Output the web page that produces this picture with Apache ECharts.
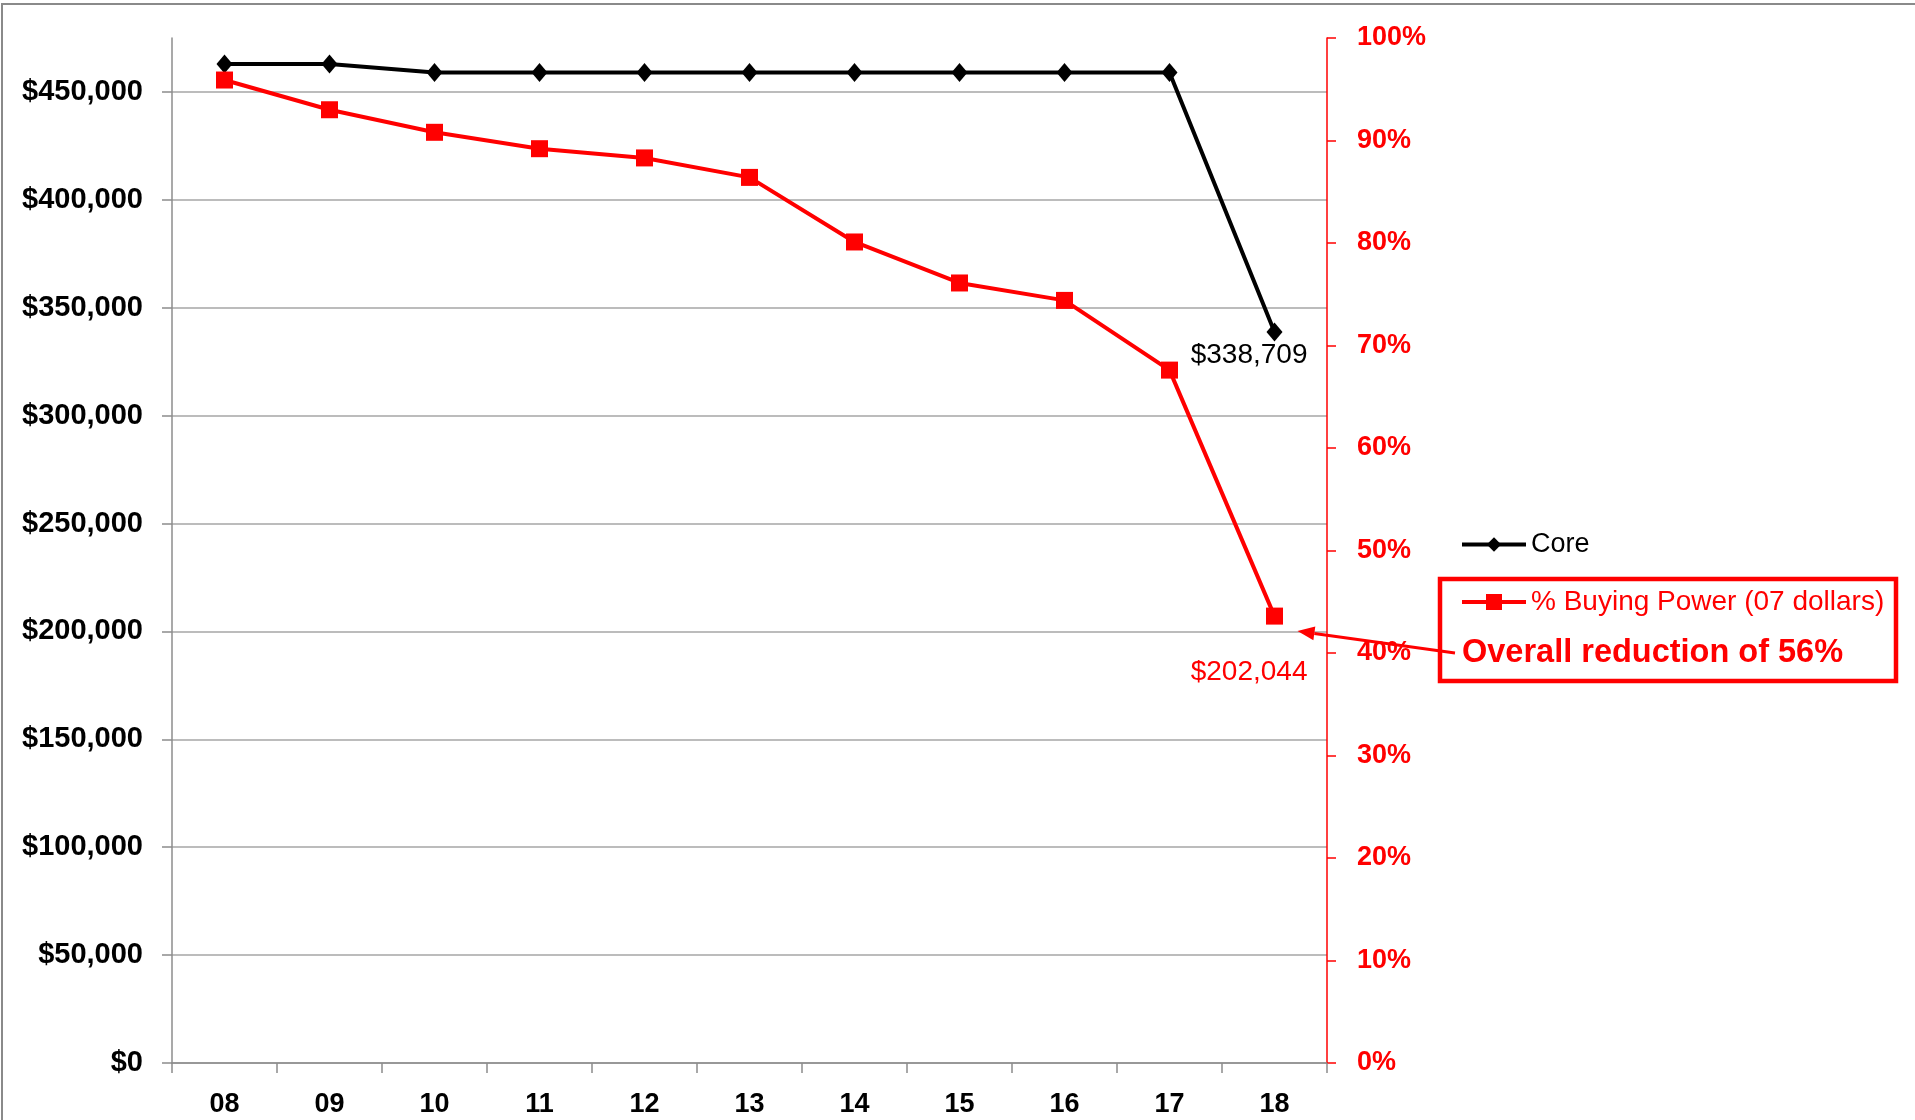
<!DOCTYPE html>
<html>
<head>
<meta http-equiv="content-type" content="text/html; charset=UTF-8" />
<title>Core vs Buying Power</title>
<style type="text/css">
body,html{margin:0;padding:0;border:0;width:100%;height:100%;overflow:hidden;background:#fff;}
#chartContainer{width:1915px;height:1120px;}
</style>
<script src="https://cdn.jsdelivr.net/npm/echarts@6/dist/echarts.min.js"></script>
<script type="text/javascript">
var years = ['08','09','10','11','12','13','14','15','16','17','18'];
var coreValues = [462900, 462900, 459000, 459000, 459000, 459000, 459000, 459000, 459000, 459000, 338709];
var buyingPower = [95.9, 93.0, 90.8, 89.2, 88.3, 86.4, 80.1, 76.1, 74.4, 67.6, 43.6];
var leftTicks = [0, 50000, 100000, 150000, 200000, 250000, 300000, 350000, 400000, 450000];
var coreEndLabel = '$338,709';
var buyingEndLabel = '$202,044';
var noteText = 'Overall reduction of 56%';
var FONT = '"Liberation Sans", Arial, sans-serif';

window.onload = function(){ init(); };

function money(v)
{
	return '$' + String(v).replace(/\B(?=(\d{3})+(?!\d))/g, ',');
}

function init()
{
	var chart = echarts.init(document.getElementById('chartContainer'));
	var last = years.length - 1;

	var coreData = coreValues.map(function(v, i){
		if(i != last){ return v; }
		return { value: v, label: {
			show: true, formatter: coreEndLabel, position: [41, 33],
			align: 'right', verticalAlign: 'middle',
			fontFamily: FONT, fontSize: 28, color: '#000'
		}};
	});
	var bpData = buyingPower.map(function(v, i){
		if(i != last){ return v; }
		return { value: v, label: {
			show: true, formatter: buyingEndLabel, position: [41.5, 64.5],
			align: 'right', verticalAlign: 'middle',
			fontFamily: FONT, fontSize: 28, color: '#ff0000'
		}};
	});

	var option = {
		animation: false,
		textStyle: { fontFamily: FONT },
		grid: { left: 172, right: 588, top: 38, bottom: 57, outerBoundsMode: 'none', containLabel: false },
		legend: [
			{
				data: ['Core'], orient: 'vertical', left: 1460, top: 531, padding: 0,
				itemWidth: 64, itemHeight: 18,
				lineStyle: { width: 4 },
				textStyle: { fontFamily: FONT, fontSize: 27, color: '#000' }
			},
			{
				data: ['% Buying Power (07 dollars)'], orient: 'vertical', left: 1460, top: 588, padding: 0,
				itemWidth: 64, itemHeight: 20,
				lineStyle: { width: 4 },
				textStyle: { fontFamily: FONT, fontSize: 28, color: '#ff0000' }
			}
		],
		xAxis: {
			type: 'category', data: years, boundaryGap: true,
			axisLine: { show: true, lineStyle: { color: '#8c8c8c', width: 1.5 } },
			axisTick: { show: true, length: 10, lineStyle: { color: '#8c8c8c', width: 1.5 } },
			axisLabel: { fontFamily: FONT, fontSize: 27, fontWeight: 'bold', color: '#000', margin: 28 },
			splitLine: { show: false }
		},
		yAxis: [
			{
				type: 'value', position: 'left', min: 0, max: 475000, interval: 50000,
				axisLine: { show: true, lineStyle: { color: '#8c8c8c', width: 1.5 } },
				axisTick: { show: true, length: 10, customValues: leftTicks, lineStyle: { color: '#8c8c8c', width: 1.5 } },
				axisLabel: {
					customValues: leftTicks,
					formatter: function(v){ return v % 50000 == 0 ? money(v) : ''; },
					fontFamily: FONT, fontSize: 29, fontWeight: 'bold', color: '#000', margin: 29
				},
				splitLine: { show: true, lineStyle: { color: '#a6a6a6', width: 1.5 } }
			},
			{
				type: 'value', position: 'right', min: 0, max: 100, interval: 10,
				axisLine: { show: true, lineStyle: { color: '#ff0000', width: 1.5 } },
				axisTick: { show: true, length: 9, lineStyle: { color: '#ff0000', width: 1.5 } },
				axisLabel: {
					formatter: '{value}%',
					fontFamily: FONT, fontSize: 27, fontWeight: 'bold', color: '#ff0000', margin: 30
				},
				splitLine: { show: false }
			}
		],
		series: [
			{
				name: 'Core', type: 'line', yAxisIndex: 0, data: coreData,
				symbol: 'diamond', symbolSize: [16, 19],
				lineStyle: { color: '#000', width: 4 },
				itemStyle: { color: '#000' },
				z: 3
			},
			{
				name: '% Buying Power (07 dollars)', type: 'line', yAxisIndex: 1, data: bpData,
				symbol: 'rect', symbolSize: 17,
				lineStyle: { color: '#ff0000', width: 4 },
				itemStyle: { color: '#ff0000' },
				z: 4
			}
		]
	};
	chart.setOption(option);

	// arrow from the note to the last buying power point
	var p = chart.convertToPixel({ seriesIndex: 1 }, [last, buyingPower[last]]);
	var tip = [p[0] + 23, p[1] + 15];
	var tail = [1455, 653];
	var dx = tail[0] - tip[0], dy = tail[1] - tip[1];
	var len = Math.sqrt(dx * dx + dy * dy);
	var ux = dx / len, uy = dy / len;
	var hb = [tip[0] + ux * 17, tip[1] + uy * 17];
	var head = [tip, [hb[0] - uy * 7, hb[1] + ux * 7], [hb[0] + uy * 7, hb[1] - ux * 7]];

	chart.setOption({
		graphic: [
			{ type: 'rect', shape: { x: 2, y: 4, width: 1950, height: 1150 },
			  style: { fill: 'none', stroke: '#8a8a8a', lineWidth: 2 }, silent: true },
			{ type: 'rect', shape: { x: 1440, y: 579, width: 456, height: 102 },
			  style: { fill: 'none', stroke: '#ff0000', lineWidth: 4.5 }, z: 10 },
			{ type: 'text', x: 1462, y: 653,
			  style: { text: noteText, fill: '#ff0000', font: 'bold 32.5px ' + FONT, verticalAlign: 'middle', align: 'left' }, z: 10 },
			{ type: 'line', shape: { x1: tail[0], y1: tail[1], x2: hb[0], y2: hb[1] },
			  style: { stroke: '#ff0000', lineWidth: 3 }, z: 10 },
			{ type: 'polygon', shape: { points: head }, style: { fill: '#ff0000' }, z: 10 }
		]
	});
}
</script>
</head>
<body>
<div id="chartContainer"></div>
</body>
</html>
